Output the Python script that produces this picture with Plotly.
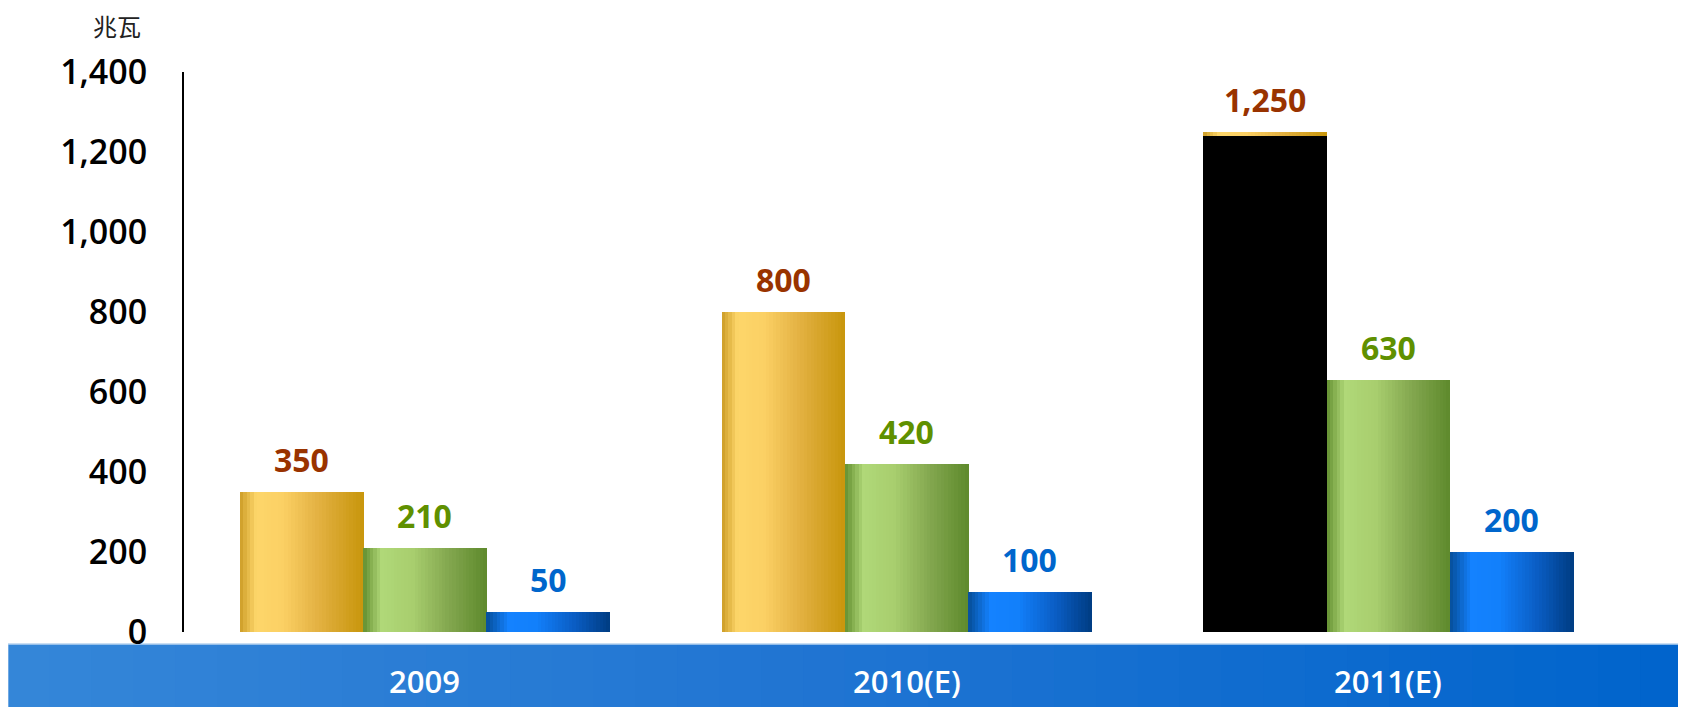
import plotly.graph_objects as go

# ---------------- data ----------------
categories = ["2009", "2010(E)", "2011(E)"]
series_names = ["gold", "green", "blue"]
gold_values = [350, 800, 1250]
green_values = [210, 420, 630]
blue_values = [50, 100, 200]
y_tick_values = [0, 200, 400, 600, 800, 1000, 1200, 1400]
unit_label = "兆瓦"

# ---------------- style ----------------
def hex2rgb(h):
    h = h.lstrip("#")
    return tuple(int(h[i:i + 2], 16) for i in (0, 2, 4))

def grad(stops, t):
    for (t0, c0), (t1, c1) in zip(stops, stops[1:]):
        if t0 <= t <= t1:
            a = (t - t0) / (t1 - t0) if t1 > t0 else 0
            r0, r1 = hex2rgb(c0), hex2rgb(c1)
            return "rgb(%d,%d,%d)" % tuple(round(x + (y - x) * a) for x, y in zip(r0, r1))
    return stops[-1][1]

gradients = {
    "gold": [(0, "#cc9c26"), (0.13, "#fdd66a"), (0.35, "#fbd064"), (0.62, "#e4b244"), (1, "#c8960c")],
    "green": [(0, "#638f30"), (0.15, "#b0d878"), (0.4, "#a8ce6e"), (0.7, "#82a64e"), (1, "#5e8a2c")],
    "blue": [(0, "#064e98"), (0.18, "#1482ff"), (0.4, "#1280fb"), (0.72, "#0a5cc2"), (1, "#003c82")],
}
label_colors = {"gold": "#993300", "green": "#5f9000", "blue": "#0066cc"}
special_fill = {("gold", 2): "black"}   # rendering quirk of the reference
cap_units = 11

bar_w = 0.256
offsets = {"gold": -bar_w, "green": 0.0, "blue": bar_w}
values = {"gold": gold_values, "green": green_values, "blue": blue_values}
N = 36

fig = go.Figure()
xs = list(range(len(categories)))
for name in series_names:
    vals = values[name]
    for j in range(N):
        t = (j + 0.5) / N
        c = grad(gradients[name], t)
        colors = [special_fill.get((name, i), c) for i in xs]
        fig.add_trace(go.Bar(
            x=[i + offsets[name] for i in xs], y=vals,
            width=bar_w / N * 1.15, offset=-bar_w / 2 + j * bar_w / N,
            marker=dict(color=colors, line=dict(width=0)),
            hoverinfo="skip", showlegend=False))
    spec = [i for i in xs if (name, i) in special_fill]
    if spec:
        for j in range(N):
            t = (j + 0.5) / N
            c = grad(gradients[name], t)
            fig.add_trace(go.Bar(
                x=[i + offsets[name] for i in spec],
                y=[cap_units for i in spec],
                base=[vals[i] - cap_units for i in spec],
                width=bar_w / N * 1.15, offset=-bar_w / 2 + j * bar_w / N,
                marker=dict(color=c, line=dict(width=0)),
                hoverinfo="skip", showlegend=False))

annotations = []
for name in series_names:
    for i in xs:
        annotations.append(dict(
            x=i + offsets[name], y=values[name][i], xref="x", yref="y",
            text=f"{values[name][i]:,}", showarrow=False, yanchor="bottom", yshift=9,
            font=dict(family="Open Sans", size=32, color=label_colors[name], weight=700)))

for i, cat in enumerate(categories):
    annotations.append(dict(
        x=i, y=-0.0875, xref="x", yref="paper", text=cat, showarrow=False,
        yanchor="middle", font=dict(family="Open Sans", size=31, color="white", weight=600)))

annotations.append(dict(
    x=-0.0464, y=1.083, xref="paper", yref="paper", text=unit_label, showarrow=False,
    xanchor="center", yanchor="middle", borderpad=0,
    font=dict(family="Noto Sans CJK SC", size=24, color="#222222")))

# bottom category band (gradient by slices)
shapes = []
bx0, bx1 = -0.122, 1.0367
by0, by1 = -0.139, -0.0214
M = 40
band_stops = [(0, "#3586d8"), (0.5, "#1f74d2"), (1, "#0064cc")]
for k in range(M):
    a0 = bx0 + (bx1 - bx0) * k / M
    a1 = bx0 + (bx1 - bx0) * (k + 1.05) / M
    shapes.append(dict(type="rect", xref="paper", yref="paper", x0=a0, x1=min(a1, bx1),
                       y0=by0, y1=by1, fillcolor=grad(band_stops, (k + 0.5) / M),
                       line=dict(width=0), layer="below"))
shapes.append(dict(type="rect", xref="paper", yref="paper", x0=bx0, x1=bx1, y0=by0, y1=by1,
                   fillcolor="rgba(0,0,0,0)", line=dict(width=1.5, color="#b8d4f0"), layer="below"))

fig.update_layout(
    width=1670, height=699,
    margin=dict(l=176, r=49, t=64, b=75),
    paper_bgcolor="white", plot_bgcolor="white",
    barmode="overlay", bargap=0,
    showlegend=False,
    annotations=annotations, shapes=shapes,
    xaxis=dict(range=[-0.5, 2.5], showticklabels=False, showgrid=False, zeroline=False,
               showline=False, ticks=""),
    yaxis=dict(range=[0, 1400], tickvals=y_tick_values, tickformat=",d",
               showgrid=False, zeroline=False, showline=True, linecolor="black", linewidth=2,
               ticks="", ticklabelstandoff=28,
               tickfont=dict(family="Open Sans", size=34, color="black", weight=600)),
)

fig.write_html("out.html")
